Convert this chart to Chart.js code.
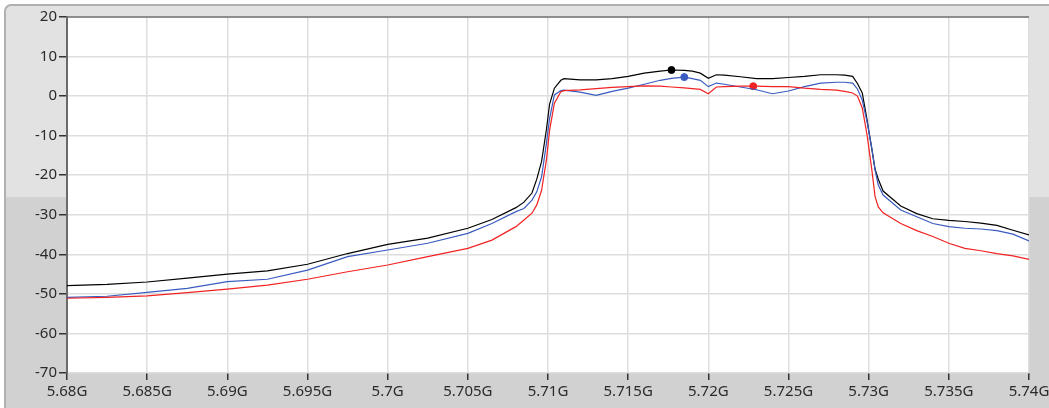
<!DOCTYPE html>
<html>
<head>
<meta charset="utf-8">
<script src="https://cdn.jsdelivr.net/npm/chart.js@4.4.1/dist/chart.umd.min.js"></script>
<style>
  html, body { margin: 0; padding: 0; background: #fff; }
  #frame {
    position: absolute; left: 4px; top: 4px; width: 1045px; height: 404px;
    border-top: 2px solid #b0b0b0; border-left: 2px solid #b0b0b0;
    border-top-left-radius: 7px; box-sizing: border-box;
    background: linear-gradient(#e2e2e2 0, #e2e2e2 191px, #d1d1d1 191px, #d1d1d1 100%);
  }
  #chart { position: absolute; left: 0; top: 0; }
</style>
</head>
<body>
<div id="frame"></div>
<canvas id="chart" width="1049" height="408"></canvas>
<script>
// Frequências (GHz), partilhadas pelas três curvas
const freqs = [
  5.680, 5.6825, 5.685, 5.6875, 5.690, 5.6925, 5.695, 5.6975, 5.700, 5.7025,
  5.705, 5.7065, 5.708, 5.7085, 5.709, 5.7093, 5.7096, 5.7099, 5.7101, 5.7104,
  5.7108, 5.711, 5.712, 5.713, 5.714, 5.715, 5.716, 5.717, 5.7177, 5.7185,
  5.719, 5.7195, 5.720, 5.7205, 5.721, 5.722, 5.723, 5.724, 5.725, 5.726,
  5.727, 5.728, 5.7285, 5.729, 5.7293, 5.7296, 5.7299, 5.7302, 5.7304, 5.7306,
  5.7309, 5.732, 5.733, 5.734, 5.735, 5.736, 5.737, 5.738, 5.739, 5.740
];

// Níveis (dB)
const black = [
  -47.9, -47.6, -47.0, -46.0, -45.0, -44.2, -42.5, -39.8, -37.5, -35.9,
  -33.4, -31.2, -28.2, -26.8, -24.5, -21.0, -16.5, -8.5, -2.0, 2.0,
  4.0, 4.4, 4.1, 4.1, 4.4, 5.0, 5.8, 6.3, 6.6, 6.5,
  6.3, 5.8, 4.5, 5.4, 5.3, 4.9, 4.4, 4.4, 4.7, 5.0,
  5.4, 5.4, 5.3, 5.0, 3.2, 0.8, -6.0, -13.5, -18.5, -21.0,
  -24.0, -27.8, -29.7, -31.0, -31.4, -31.7, -32.1, -32.7, -33.9, -35.1
];
const blue = [
  -50.9, -50.6, -49.6, -48.6, -46.9, -46.3, -44.0, -40.6, -38.9, -37.2,
  -34.7, -32.2, -29.2, -28.4, -26.3, -24.2, -20.4, -12.0, -5.6, 0.3,
  1.4, 1.5, 1.0, 0.2, 1.2, 2.0, 3.0, 4.0, 4.5, 4.8,
  4.4, 4.0, 2.4, 3.3, 3.0, 2.3, 1.6, 0.6, 1.3, 2.4,
  3.3, 3.5, 3.5, 3.3, 1.8, -1.0, -6.5, -13.2, -18.7, -22.5,
  -25.0, -28.8, -30.5, -32.2, -33.0, -33.4, -33.6, -34.0, -34.9, -36.6
];
const red = [
  -51.1, -50.9, -50.5, -49.7, -48.8, -47.8, -46.3, -44.4, -42.7, -40.6,
  -38.5, -36.4, -33.0, -31.3, -29.6, -27.5, -23.8, -16.2, -8.6, -1.8,
  1.1, 1.4, 1.6, 1.9, 2.2, 2.4, 2.6, 2.5, 2.3, 2.1,
  1.9, 1.7, 0.6, 2.3, 2.4, 2.5, 2.5, 2.4, 2.4, 2.0,
  1.7, 1.5, 1.2, 0.8, 0.0, -3.0, -9.8, -18.7, -25.4, -28.0,
  -29.5, -32.2, -34.0, -35.5, -37.2, -38.5, -39.1, -39.8, -40.4, -41.3
];

// Marcadores de pico
const markerFreqs = [5.7177, 5.7185, 5.7228];
const markerVals = [6.6, 4.8, 2.5];
const markerColors = ['#000000', '#3a5bbf', '#f22222'];

// Ticks
const xTicks = [5.68, 5.685, 5.69, 5.695, 5.70, 5.705, 5.71, 5.715, 5.72, 5.725, 5.73, 5.735, 5.74];
const yTicks = [20, 10, 0, -10, -20, -30, -40, -50, -60, -70];

const toPoints = vals => freqs.map((f, i) => ({ x: f, y: vals[i] }));

const plotBg = {
  id: 'plotBg',
  beforeDraw(chart) {
    const { ctx, chartArea: a } = chart;
    ctx.save();
    ctx.fillStyle = '#ffffff';
    ctx.fillRect(a.left, a.top, a.right - a.left, a.bottom - a.top);
    ctx.restore();
  },
  afterDraw(chart) {
    const { ctx, chartArea: a } = chart;
    ctx.save();
    ctx.strokeStyle = '#707070';
    ctx.lineWidth = 1.5;
    ctx.beginPath();
    ctx.moveTo(a.left, a.top);
    ctx.lineTo(a.right, a.top);
    ctx.stroke();
    ctx.restore();
  }
};

const font = { family: '"Noto Sans", "Open Sans", sans-serif', size: 15 };

const line = (vals, color) => ({
  type: 'line',
  data: toPoints(vals),
  borderColor: color,
  borderWidth: 1.2,
  pointRadius: 0,
  tension: 0
});

new Chart(document.getElementById('chart'), {
  data: {
    datasets: [
      line(red, '#f22222'),
      line(blue, '#3a5bbf'),
      line(black, '#000000'),
      {
        type: 'scatter',
        data: markerFreqs.map((f, i) => ({ x: f, y: markerVals[i] })),
        pointRadius: 3.5,
        pointBackgroundColor: markerColors,
        pointBorderColor: markerColors
      }
    ]
  },
  plugins: [plotBg],
  options: {
    responsive: false,
    animation: false,
    layout: { padding: { top: 17, right: 20, left: 0, bottom: 0 } },
    plugins: { legend: { display: false }, tooltip: { enabled: false } },
    scales: {
      x: {
        type: 'linear',
        min: 5.68,
        max: 5.74,
        afterBuildTicks: s => { s.ticks = xTicks.map(v => ({ value: v })); },
        afterFit: s => { s.height = 35; s.paddingLeft = 0; s.paddingRight = 0; },
        ticks: {
          font, color: '#2b2b2b', padding: 3, maxRotation: 0, autoSkip: false,
          callback: v => parseFloat(v.toFixed(3)) + 'G'
        },
        grid: { color: '#dedede', lineWidth: 1.5, tickColor: '#333', tickLength: 7, tickWidth: 1.5 },
        border: { display: false }
      },
      y: {
        min: -70,
        max: 20,
        afterBuildTicks: s => { s.ticks = yTicks.map(v => ({ value: v })); },
        afterFit: s => { s.width = 67; s.paddingTop = 0; s.paddingBottom = 0; },
        ticks: { font, color: '#2b2b2b', padding: 2 },
        grid: { color: '#dedede', lineWidth: 1.5, tickColor: '#333', tickLength: 8, tickWidth: 1.5 },
        border: { display: true, color: '#6a6a6a', width: 2 }
      }
    }
  }
});
</script>
</body>
</html>
